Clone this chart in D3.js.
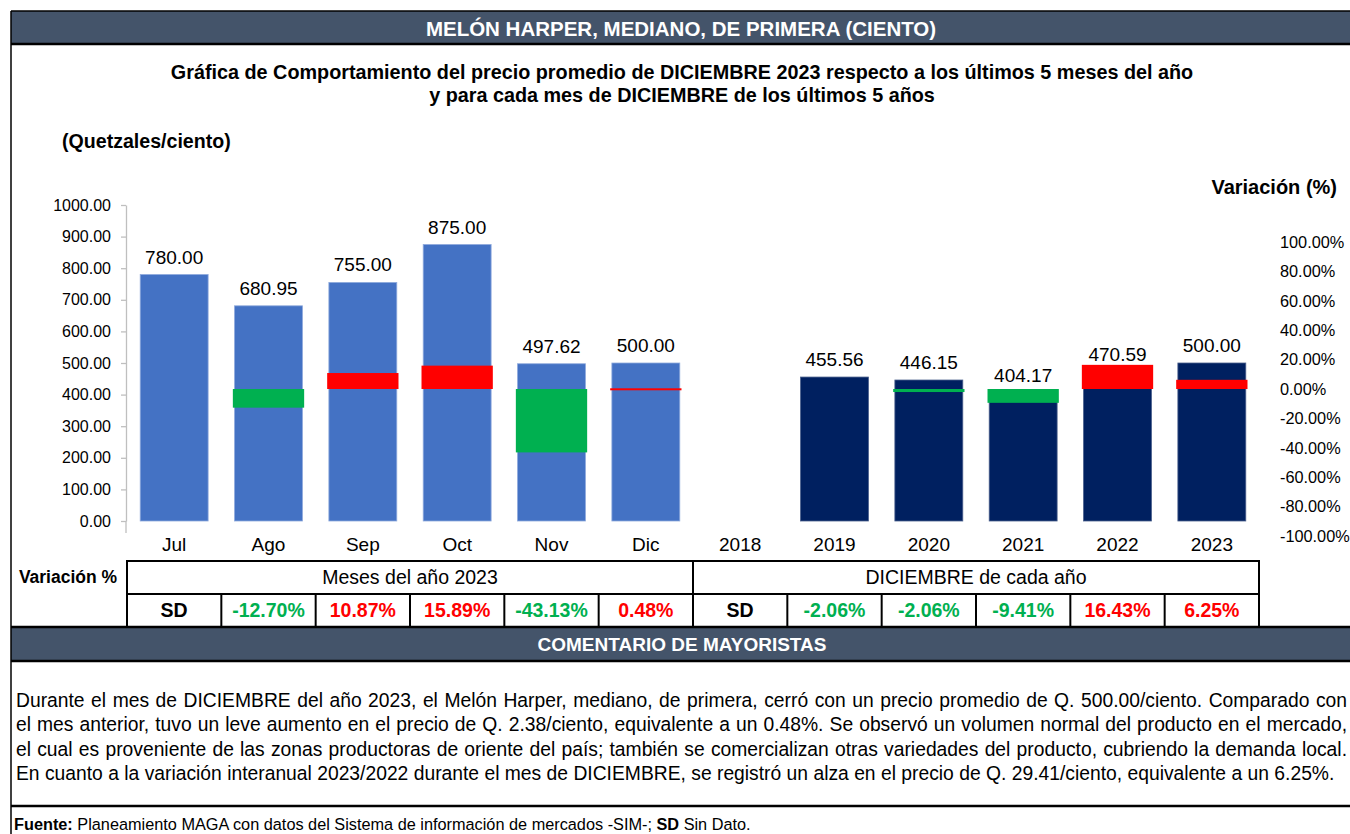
<!DOCTYPE html>
<html>
<head>
<meta charset="utf-8">
<script src="https://cdn.jsdelivr.net/npm/d3@7"></script>
<style>
body { margin: 0; background: #fff; }
svg { display: block; font-family: "Liberation Sans", Arial, sans-serif; }
</style>
</head>
<body>
<svg id="chart" width="1350" height="834"></svg>
<script>
// --- data ---
var categories = ["Jul", "Ago", "Sep", "Oct", "Nov", "Dic", "2018", "2019", "2020", "2021", "2022", "2023"];
var prices = [780.00, 680.95, 755.00, 875.00, 497.62, 500.00, null, 455.56, 446.15, 404.17, 470.59, 500.00];
// variation series plotted on the secondary axis (2019 has no bar in the chart)
var variation = [null, -12.70, 10.87, 15.89, -43.13, 0.48, null, null, -2.06, -9.41, 16.43, 6.25];
// variation printed in the table row
var tableVariation = [null, -12.70, 10.87, 15.89, -43.13, 0.48, null, -2.06, -2.06, -9.41, 16.43, 6.25];
var groupLabels = ["Meses del año 2023", "DICIEMBRE de cada año"];
var priceTicks = [0, 100, 200, 300, 400, 500, 600, 700, 800, 900, 1000];
var varTicks = [-100, -80, -60, -40, -20, 0, 20, 40, 60, 80, 100];

var title = "MELÓN HARPER, MEDIANO, DE PRIMERA (CIENTO)";
var subtitle = [
    "Gráfica de Comportamiento del precio promedio de DICIEMBRE 2023 respecto a los últimos 5 meses del año",
    "y para cada mes de DICIEMBRE de los últimos 5 años"
];
var comment = [
    "Durante el mes de DICIEMBRE del año 2023, el Melón Harper, mediano, de primera, cerró con un precio promedio de Q. 500.00/ciento. Comparado con",
    "el mes anterior, tuvo un leve aumento en el precio de Q. 2.38/ciento, equivalente a un 0.48%. Se observó un volumen normal del producto en el mercado,",
    "el cual es proveniente de las zonas productoras de oriente del país; también se comercializan otras variedades del producto, cubriendo la demanda local.",
    "En cuanto a la variación interanual 2023/2022 durante el mes de DICIEMBRE, se registró un alza en el precio de Q. 29.41/ciento, equivalente a un 6.25%."
];

var svg = d3.select("#chart")
    , W = 1350
    , headFill = "#44546A"
    , green = "#00B050"
    , red = "#FF0000"
    , locale = d3.formatLocale({decimal: ".", thousands: ",", grouping: [3], currency: ["", ""], minus: "-"})
    , f2 = locale.format(".2f")
    , pct = function(v) { return f2(v) + "%"; }
    ;

// scales
var x = d3.scaleBand()
    .domain(categories)
    .range([127, 1259])
    .paddingInner(0.28)
    .paddingOuter(0.14);

var y = d3.scaleLinear().domain([0, 1000]).range([521, 205]);
var yv = d3.scaleLinear().domain([-100, 100]).range([536, 242]);

// --- header ---
svg.append("rect")
    .attr("x", 11).attr("y", 11)
    .attr("width", W - 11).attr("height", 33)
    .attr("fill", headFill);
svg.append("line")
    .attr("x1", 11).attr("x2", W).attr("y1", 11).attr("y2", 11)
    .attr("stroke", "#000").attr("stroke-width", 1.5);
svg.append("line")
    .attr("x1", 11).attr("x2", W).attr("y1", 44).attr("y2", 44)
    .attr("stroke", "#000").attr("stroke-width", 2.5);
svg.append("text")
    .attr("x", 681).attr("y", 36)
    .attr("text-anchor", "middle")
    .attr("fill", "#fff")
    .style("font-size", "20.5px").style("font-weight", "bold")
    .text(title);

svg.selectAll(".subtitle")
    .data(subtitle)
    .enter().append("text")
    .attr("class", "subtitle")
    .attr("x", 682)
    .attr("y", function(d, i) { return 79 + i * 23; })
    .attr("text-anchor", "middle")
    .style("font-size", "19.8px").style("font-weight", "bold")
    .text(function(d) { return d; });

svg.append("text")
    .attr("x", 62).attr("y", 148)
    .style("font-size", "19.6px").style("font-weight", "bold")
    .text("(Quetzales/ciento)");

svg.append("text")
    .attr("x", 1337).attr("y", 194)
    .attr("text-anchor", "end")
    .style("font-size", "20px").style("font-weight", "bold")
    .text("Variación (%)");

// --- axes ---
var yAxis = d3.axisLeft(y)
    .tickValues(priceTicks)
    .tickFormat(f2)
    .tickSize(5)
    .tickSizeOuter(0);

var gy = svg.append("g")
    .attr("transform", "translate(126,0)")
    .call(yAxis);
gy.selectAll(".domain, .tick line").attr("stroke", "#BFBFBF").attr("stroke-width", 1.3);
gy.selectAll("text").attr("x", -15).attr("fill", "#000").style("font-size", "16px").style("font-family", "inherit");
gy.append("line")
    .attr("y1", y(0)).attr("y2", y(0) + 12)
    .attr("stroke", "#BFBFBF").attr("stroke-width", 1.3);

var yvAxis = d3.axisRight(yv)
    .tickValues(varTicks)
    .tickFormat(pct)
    .tickSize(0)
    .tickPadding(0);

var gv = svg.append("g")
    .attr("transform", "translate(1280,0)")
    .call(yvAxis);
gv.select(".domain").remove();
gv.selectAll("text").attr("fill", "#000").style("font-size", "16.3px").style("font-family", "inherit");

// --- price bars ---
var rows = categories.map(function(c, i) {
    return {cat: c, price: prices[i], v: variation[i], tv: tableVariation[i], month: i < 6};
});

svg.append("g").selectAll("rect")
    .data(rows.filter(function(d) { return d.price != null; }))
    .enter().append("rect")
    .attr("x", function(d) { return x(d.cat); })
    .attr("width", x.bandwidth())
    .attr("y", function(d) { return y(d.price); })
    .attr("height", function(d) { return y(0) - y(d.price); })
    .attr("fill", function(d) { return d.month ? "#4472C4" : "#002060"; })
    .attr("stroke", function(d) { return d.month ? "#8FAADC" : "#4A5F8C"; })
    .attr("stroke-width", 0.8);

svg.append("g").selectAll("text")
    .data(rows.filter(function(d) { return d.price != null; }))
    .enter().append("text")
    .attr("x", function(d) { return x(d.cat) + x.bandwidth() / 2; })
    .attr("y", function(d) { return y(d.price) - 11; })
    .attr("text-anchor", "middle")
    .style("font-size", "19px")
    .text(function(d) { return f2(d.price); });

// --- variation bars (secondary axis) ---
var vw = x.bandwidth() * 1.05;
svg.append("g").selectAll("rect")
    .data(rows.filter(function(d) { return d.v != null; }))
    .enter().append("rect")
    .attr("x", function(d) { return x(d.cat) + x.bandwidth() / 2 - vw / 2; })
    .attr("width", vw)
    .attr("y", function(d) { return d.v > 0 ? yv(d.v) : yv(0); })
    .attr("height", function(d) { return Math.max(2, Math.abs(yv(d.v) - yv(0))); })
    .attr("fill", function(d) { return d.v > 0 ? red : green; });

// category labels
svg.append("g").selectAll("text")
    .data(categories)
    .enter().append("text")
    .attr("x", function(d) { return x(d) + x.bandwidth() / 2; })
    .attr("y", 551)
    .attr("text-anchor", "middle")
    .style("font-size", "19px")
    .text(function(d) { return d; });

// --- table ---
var step = x.step()
    , t0 = 127
    , tTop = 561
    , tMid = 594
    , tBot = 627
    ;

svg.append("text")
    .attr("x", 68).attr("y", 583)
    .attr("text-anchor", "middle")
    .style("font-size", "17.5px").style("font-weight", "bold")
    .text("Variación %");

var tab = svg.append("g");
tab.selectAll(".grp")
    .data(groupLabels)
    .enter().append("text")
    .attr("x", function(d, i) { return t0 + step * (i * 6 + 3); })
    .attr("y", 584)
    .attr("text-anchor", "middle")
    .style("font-size", "19.5px")
    .text(function(d) { return d; });

tab.selectAll(".val")
    .data(rows)
    .enter().append("text")
    .attr("x", function(d) { return x(d.cat) + x.bandwidth() / 2; })
    .attr("y", 617)
    .attr("text-anchor", "middle")
    .style("font-size", "19.5px").style("font-weight", "bold")
    .attr("fill", function(d) { return d.tv == null ? "#000" : (d.tv < 0 ? green : red); })
    .text(function(d) { return d.tv == null ? "SD" : pct(d.tv); });

tab.append("rect")
    .attr("x", t0).attr("y", tTop)
    .attr("width", step * 12).attr("height", tBot - tTop)
    .attr("fill", "none").attr("stroke", "#000").attr("stroke-width", 2);
tab.append("line")
    .attr("x1", t0).attr("x2", t0 + step * 12).attr("y1", tMid).attr("y2", tMid)
    .attr("stroke", "#000").attr("stroke-width", 2);
tab.selectAll(".vl")
    .data(d3.range(1, 12))
    .enter().append("line")
    .attr("x1", function(d) { return t0 + step * d; })
    .attr("x2", function(d) { return t0 + step * d; })
    .attr("y1", function(d) { return d === 6 ? tTop : tMid; })
    .attr("y2", tBot)
    .attr("stroke", "#000").attr("stroke-width", 2);

// --- comment block ---
svg.append("rect")
    .attr("x", 11).attr("y", 627)
    .attr("width", W - 11).attr("height", 34)
    .attr("fill", headFill);
svg.append("line")
    .attr("x1", 11).attr("x2", W).attr("y1", 627).attr("y2", 627)
    .attr("stroke", "#000").attr("stroke-width", 2.5);
svg.append("line")
    .attr("x1", 11).attr("x2", W).attr("y1", 661).attr("y2", 661)
    .attr("stroke", "#000").attr("stroke-width", 2.5);
svg.append("text")
    .attr("x", 682).attr("y", 651)
    .attr("text-anchor", "middle")
    .attr("fill", "#fff")
    .style("font-size", "19px").style("font-weight", "bold")
    .text("COMENTARIO DE MAYORISTAS");

var para = svg.append("g").selectAll("text")
    .data(comment)
    .enter().append("text")
    .attr("x", 16)
    .attr("y", function(d, i) { return 707 + i * 24.3; })
    .style("font-size", "19.3px")
    .text(function(d) { return d; });

// justify every line but the last
para.each(function(d, i) {
    if (i === comment.length - 1) return;
    var node = this
        , natural = node.getComputedTextLength()
        , spaces = d.split(" ").length - 1
        ;
    d3.select(node).style("word-spacing", ((1347 - 16 - natural) / spaces) + "px");
});

svg.append("line")
    .attr("x1", 11).attr("x2", W).attr("y1", 806).attr("y2", 806)
    .attr("stroke", "#000").attr("stroke-width", 2.5);

var src = svg.append("text")
    .attr("x", 14).attr("y", 830)
    .style("font-size", "16.3px");
src.append("tspan").style("font-weight", "bold").text("Fuente:");
src.append("tspan").text(" Planeamiento MAGA con datos del Sistema de información de mercados -SIM-; ");
src.append("tspan").style("font-weight", "bold").text("SD");
src.append("tspan").text(" Sin Dato.");

// left frame
svg.append("line")
    .attr("x1", 11).attr("x2", 11).attr("y1", 11).attr("y2", 834)
    .attr("stroke", "#000").attr("stroke-width", 1.5);
</script>
</body>
</html>
